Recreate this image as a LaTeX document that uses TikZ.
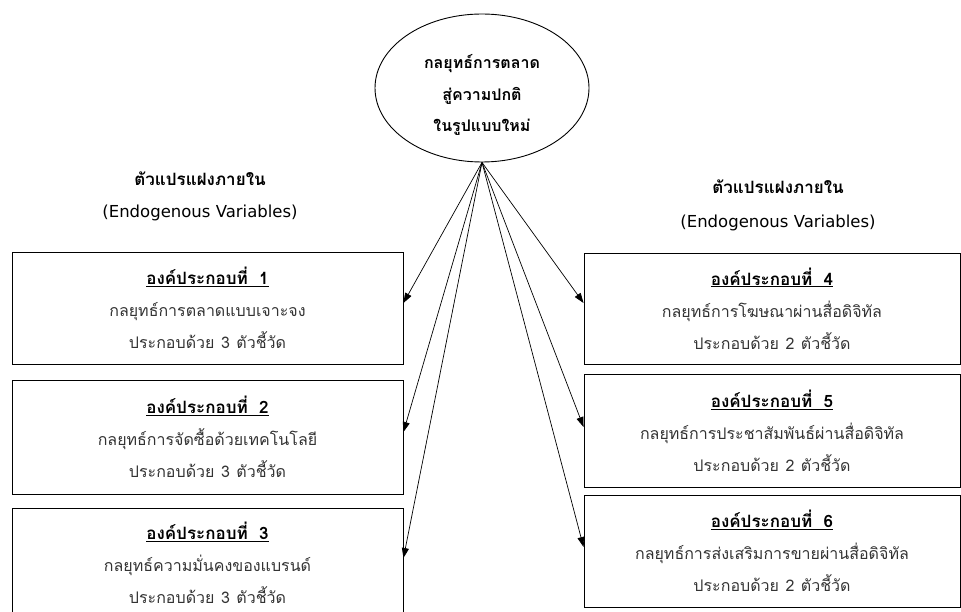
\documentclass[tikz,border=0pt]{standalone}
\usepackage{fontspec}
\newfontfamily\thaifont[Script=Thai]{Loma}
\newfontfamily\latfont{DejaVu Sans}
\usetikzlibrary{shapes.geometric,arrows.meta}
\tikzset{
  box/.style={draw=black, line width=0.9pt, rectangle, align=center, inner sep=0pt,
    font=\thaifont\fontsize{16}{32}\selectfont, text=black!80},
  head/.style={align=center, font=\thaifont\fontsize{16}{32}\selectfont},
  conn/.style={line width=0.7pt, -{Triangle[length=10pt,width=7pt]}},
}
\newcommand{\ttl}[1]{{\color{black}\fontsize{17}{32}\selectfont\textbf{\underline{#1}}}}
\newcommand{\myendovar}{{\latfont\fontsize{16.5}{32}\selectfont (Endogenous Variables)}}
\newcommand{\myhd}{{\fontsize{17}{32}\selectfont\textbf{ตัวแปรแฝงภายใน}}}
\newcommand{\gap}{\hspace{6.5pt}}
\begin{document}
\begin{tikzpicture}[x=1pt,y=-1pt]
\useasboundingbox (0,0) rectangle (961,612);
\node[draw, ellipse, line width=0.9pt, minimum width=214pt, minimum height=148pt] (e) at (482,88) {};
\node[head, font=\thaifont\bfseries\fontsize{16}{31.5}\selectfont] (et) at (482,95) {กลยุทธ์การตลาด\\สู่ความปกติ\\ในรูปแบบใหม่};
\node[head] (hl) at (200,196) {\myhd\\\myendovar};
\node[head, font=\thaifont\fontsize{16}{34}\selectfont] (hr) at (778,205) {\myhd\\\myendovar};
\node[box, minimum width=391pt, minimum height=112pt] (b1) at (207.5,308) {\ttl{องค์ประกอบที่~~1}\\กลยุทธ์การตลาดแบบเจาะจง\\ประกอบด้วย\gap 3\gap ตัวชี้วัด};
\node[box, minimum width=391pt, minimum height=114pt] (b2) at (207.5,437) {\ttl{องค์ประกอบที่~~2}\\กลยุทธ์การจัดซื้อด้วยเทคโนโลยี\\ประกอบด้วย\gap 3\gap ตัวชี้วัด};
\node[box, minimum width=391pt, minimum height=110pt] (b3) at (207.5,563) {\ttl{องค์ประกอบที่~~3}\\กลยุทธ์ความมั่นคงของแบรนด์\\ประกอบด้วย\gap 3\gap ตัวชี้วัด};
\node[box, minimum width=376pt, minimum height=111pt] (b4) at (772,308.5) {\ttl{องค์ประกอบที่~~4}\\กลยุทธ์การโฆษณาผ่านสื่อดิจิทัล\\ประกอบด้วย\gap 2\gap ตัวชี้วัด};
\node[box, minimum width=376pt, minimum height=113pt] (b5) at (772,430.5) {\ttl{องค์ประกอบที่~~5}\\กลยุทธ์การประชาสัมพันธ์ผ่านสื่อดิจิทัล\\ประกอบด้วย\gap 2\gap ตัวชี้วัด};
\node[box, minimum width=376pt, minimum height=112pt] (b6) at (772,551) {\ttl{องค์ประกอบที่~~6}\\กลยุทธ์การส่งเสริมการขายผ่านสื่อดิจิทัล\\ประกอบด้วย\gap 2\gap ตัวชี้วัด};
\draw[conn] (e.south) -- ([yshift=5pt]b1.east);
\draw[conn] (e.south) -- ([yshift=5pt]b2.east);
\draw[conn] (e.south) -- ([yshift=5pt]b3.east);
\draw[conn] (e.south) -- ([yshift=5.5pt]b4.west);
\draw[conn] (e.south) -- ([yshift=3.5pt]b5.west);
\draw[conn] (e.south) -- ([yshift=4pt]b6.west);
\end{tikzpicture}
\end{document}
